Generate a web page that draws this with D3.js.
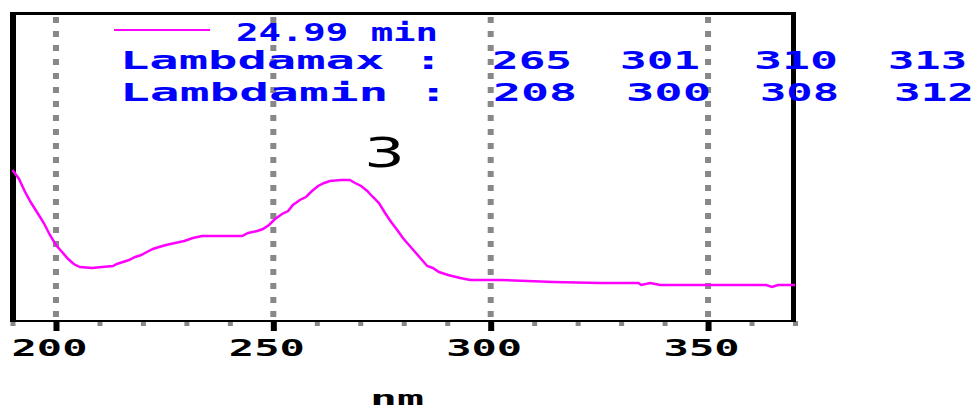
<!DOCTYPE html>
<html>
<head>
<meta charset="utf-8">
<script src="https://cdn.jsdelivr.net/npm/d3@7/dist/d3.min.js"></script>
<style>
  html, body { margin: 0; padding: 0; background: #fff; }
  svg { display: block; }
</style>
</head>
<body>
<svg id="chart" width="977" height="411"></svg>
<script>
// ---- data ----
const wavelength = [190.0,191.5,192.9,194.3,195.9,197.2,198.6,200.0,201.4,202.8,204.1,205.5,208.3,210.6,213.1,214.0,215.4,216.8,218.2,219.6,220.9,222.3,223.7,225.3,227.4,229.5,231.5,233.6,238.9,242.8,244.2,246.3,247.6,249.0,250.4,252.0,253.4,254.5,256.1,257.5,258.9,260.3,261.7,263.0,265.6,267.6,268.8,270.2,271.6,272.9,274.3,275.7,277.1,278.5,279.8,281.2,282.6,284.0,285.4,286.7,288.1,290.2,293.0,295.3,302.2,314.4,325.2,334.0,334.6,336.7,339.0,352.8,363.4,364.7,366.1,370.0];
const absorbance = [150,141,128,117,106,97,85,75,68,61,56,53,52,53,54,56,58,60,63,65,68,71,73,75,77,79,82,84,84,84,87,89,91,95,101,106,109,115,120,123,129,134,137,139,140,140,137,134,129,123,117,107,98,90,82,75,68,61,54,52,48,45,42,40,40,38,37,37,35,37,35,35,35,33,35,35];
const majorTicks = [200, 250, 300, 350];
const minorTicks = [190,210,220,230,240,260,270,280,290,310,320,330,340,360,370];
const retentionLabel = "24.99 min";
const lambdaMaxLabel = "Lambdamax :";
const lambdaMax = ["265", "301", "310", "313"];
const lambdaMinLabel = "Lambdamin :";
const lambdaMin = ["208", "300", "308", "312"];
const peakLabel = "3";
const xTitle = "nm";

// ---- layout ----
const svg = d3.select("#chart");
const x = d3.scaleLinear().domain([190, 370]).range([12.5, 795]);
const y = d3.scaleLinear().domain([0, 306]).range([320, 14]);
const plotBottom = 321;
const blockFont = "'DejaVu Sans Mono', 'Liberation Mono', monospace";

// gridlines (dotted grey)
svg.append("g").selectAll("line").data(majorTicks).join("line")
  .attr("x1", d => x(d)).attr("x2", d => x(d))
  .attr("y1", 17).attr("y2", plotBottom)
  .attr("stroke", "#888888").attr("stroke-width", 6)
  .attr("stroke-dasharray", "6 8");

// minor ticks
const minorAxis = d3.axisBottom(x).tickValues(minorTicks).tickSize(5).tickFormat("");
const gMinor = svg.append("g").attr("transform", `translate(0,${plotBottom})`).call(minorAxis);
gMinor.select(".domain").remove();
gMinor.selectAll(".tick line").attr("stroke", "#888888").attr("stroke-width", 5);

// major axis
const majorAxis = d3.axisBottom(x).tickValues(majorTicks).tickSize(10).tickPadding(8).tickFormat(d3.format("d"));
const gMajor = svg.append("g").attr("transform", `translate(0,${plotBottom})`).call(majorAxis);
gMajor.select(".domain").remove();
gMajor.selectAll(".tick line").attr("stroke", "#000").attr("stroke-width", 6);
gMajor.selectAll(".tick text")
  .attr("font-family", blockFont).attr("font-weight", "bold").attr("font-size", 23)
  .attr("fill", "#000").attr("dy", null).attr("y", 35).attr("dx", -7)
  .attr("textLength", 76).attr("lengthAdjust", "spacingAndGlyphs");

// axis line + frame
svg.append("line").attr("x1", 10).attr("x2", 796).attr("y1", plotBottom).attr("y2", plotBottom)
  .attr("stroke", "#000").attr("stroke-width", 2);
svg.append("line").attr("x1", 13).attr("x2", 13).attr("y1", 12).attr("y2", 322)
  .attr("stroke", "#000").attr("stroke-width", 6);
svg.append("line").attr("x1", 793.5).attr("x2", 793.5).attr("y1", 12).attr("y2", 322)
  .attr("stroke", "#000").attr("stroke-width", 5);
svg.append("line").attr("x1", 10).attr("x2", 796).attr("y1", 13.5).attr("y2", 13.5)
  .attr("stroke", "#000").attr("stroke-width", 3);

// spectrum line
const line = d3.line().x((d, i) => x(wavelength[i])).y(d => y(d));
svg.append("path").datum(absorbance)
  .attr("d", line).attr("fill", "none")
  .attr("stroke", "#FF00FF").attr("stroke-width", 2.5);

// legend
svg.append("line").attr("x1", 114).attr("x2", 210).attr("y1", 30).attr("y2", 30)
  .attr("stroke", "#FF00FF").attr("stroke-width", 2);
function blueText(str, x0, x1, base) {
  svg.append("text").text(str)
    .attr("x", x0).attr("y", base)
    .attr("font-family", blockFont).attr("font-weight", "bold").attr("font-size", 24)
    .attr("fill", "#0000FF")
    .attr("textLength", x1 - x0).attr("lengthAdjust", "spacingAndGlyphs");
}
blueText(retentionLabel, 236, 438, 41);
blueText(lambdaMaxLabel, 120, 443, 69);
blueText(lambdaMinLabel, 120, 448, 101);
const maxPos = [[492, 572], [620, 700], [754, 838], [888, 967]];
const minPos = [[493, 577], [626, 711], [760, 839], [894, 974]];
lambdaMax.forEach((s, i) => blueText(s, maxPos[i][0], maxPos[i][1], 69));
lambdaMin.forEach((s, i) => blueText(s, minPos[i][0], minPos[i][1], 101));

// peak label
svg.append("text").text(peakLabel)
  .attr("x", 364).attr("y", 167)
  .attr("font-family", "'DejaVu Sans', sans-serif").attr("font-size", 40)
  .attr("fill", "#000")
  .attr("textLength", 41).attr("lengthAdjust", "spacingAndGlyphs");

// x title
svg.append("text").text(xTitle)
  .attr("x", 370).attr("y", 405)
  .attr("font-family", blockFont).attr("font-weight", "bold").attr("font-size", 20)
  .attr("fill", "#000")
  .attr("textLength", 54).attr("lengthAdjust", "spacingAndGlyphs");
</script>
</body>
</html>
